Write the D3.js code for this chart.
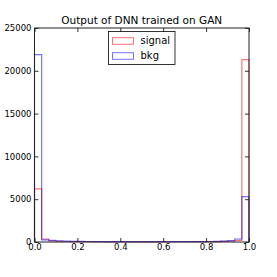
<!DOCTYPE html>
<html><head><meta charset="utf-8">
<script src="https://cdn.jsdelivr.net/npm/d3@7"></script>
<style>body{margin:0;background:#fff}svg{display:block}text{font-family:"DejaVu Sans",sans-serif}</style>
</head><body>
<script>
const binEdges = d3.range(31).map(i => i / 30);
const signalCounts = [6200, 350, 130, 80, 60, 50, 40, 35, 30, 30, 25, 25, 25, 25, 25, 25, 25, 25, 25, 30, 30, 30, 35, 40, 45, 55, 70, 100, 200, 21300];
const bkgCounts = [21900, 250, 180, 130, 100, 80, 70, 60, 50, 45, 40, 40, 35, 35, 35, 35, 35, 35, 35, 40, 40, 45, 50, 55, 60, 80, 100, 150, 350, 5300];
const xTicks = [0, 0.2, 0.4, 0.6, 0.8, 1.0];
const yTicks = [0, 5000, 10000, 15000, 20000, 25000];
const seriesNames = ["signal", "bkg"];
const seriesColors = ["rgba(255,0,0,0.55)", "rgba(0,0,255,0.55)"];
const title = "Output of DNN trained on GAN";

const W = 277, H = 277;
const m = {l: 34.5, r: 28, t: 28, b: 35};
const svg = d3.select("body").append("svg").attr("width", W).attr("height", H);
const x = d3.scaleLinear().domain([0, 1]).range([m.l, W - m.r]);
const y = d3.scaleLinear().domain([0, 25000]).range([H - m.b, m.t]);

function stepPts(counts) {
  const pts = [[0, 0]];
  counts.forEach((c, i) => { pts.push([binEdges[i], c]); pts.push([binEdges[i + 1], c]); });
  pts.push([1, 0]);
  return pts;
}
const line = d3.line().x(d => x(d[0])).y(d => y(d[1]));
[signalCounts, bkgCounts].forEach((c, i) => {
  svg.append("path").attr("d", line(stepPts(c))).attr("fill", "none")
    .attr("stroke", seriesColors[i]).attr("stroke-width", 1.2);
});

// axes
const fs = 8.5;
const xb = svg.append("g").attr("transform", `translate(0,${H - m.b})`)
  .call(d3.axisBottom(x).tickValues(xTicks).tickFormat(d3.format(".1f")).tickSizeInner(-4).tickSizeOuter(0).tickPadding(3));
const xt = svg.append("g").attr("transform", `translate(0,${m.t})`)
  .call(d3.axisTop(x).tickValues(xTicks).tickFormat("").tickSizeInner(-4).tickSizeOuter(0));
const yl = svg.append("g").attr("transform", `translate(${m.l},0)`)
  .call(d3.axisLeft(y).tickValues(yTicks).tickFormat(d3.format("d")).tickSizeInner(-4).tickSizeOuter(0).tickPadding(3));
const yr = svg.append("g").attr("transform", `translate(${W - m.r},0)`)
  .call(d3.axisRight(y).tickValues(yTicks).tickFormat("").tickSizeInner(-4).tickSizeOuter(0));
[xb, xt, yl, yr].forEach(g => {
  g.selectAll("path.domain").remove();
  g.selectAll("line").attr("stroke", "#000").attr("stroke-width", 0.8);
  g.selectAll("text").attr("font-size", fs).attr("fill", "#000").attr("font-family", "DejaVu Sans");
});
xb.selectAll("text").attr("dy", "0.6em");
svg.append("rect").attr("x", m.l).attr("y", m.t).attr("width", W - m.r - m.l).attr("height", H - m.b - m.t)
  .attr("fill", "none").attr("stroke", "#222").attr("stroke-width", 1);

svg.append("text").attr("x", (m.l + W - m.r) / 2).attr("y", m.t - 4).attr("text-anchor", "middle")
  .attr("font-size", 10.5).text(title);

// legend
const lg = svg.append("g").attr("transform", "translate(108.5,31.5)");
lg.append("rect").attr("width", 66.5).attr("height", 33).attr("fill", "#fff").attr("stroke", "#000").attr("stroke-width", 0.8);
seriesNames.forEach((n, i) => {
  lg.append("rect").attr("x", 4).attr("y", 6.2 + i * 15).attr("width", 21).attr("height", 6.6)
    .attr("fill", "none").attr("stroke", seriesColors[i]).attr("stroke-width", 1);
  lg.append("text").attr("x", 32).attr("y", 12.8 + i * 14.5).attr("font-size", 10).text(n);
});
</script>
</body></html>
